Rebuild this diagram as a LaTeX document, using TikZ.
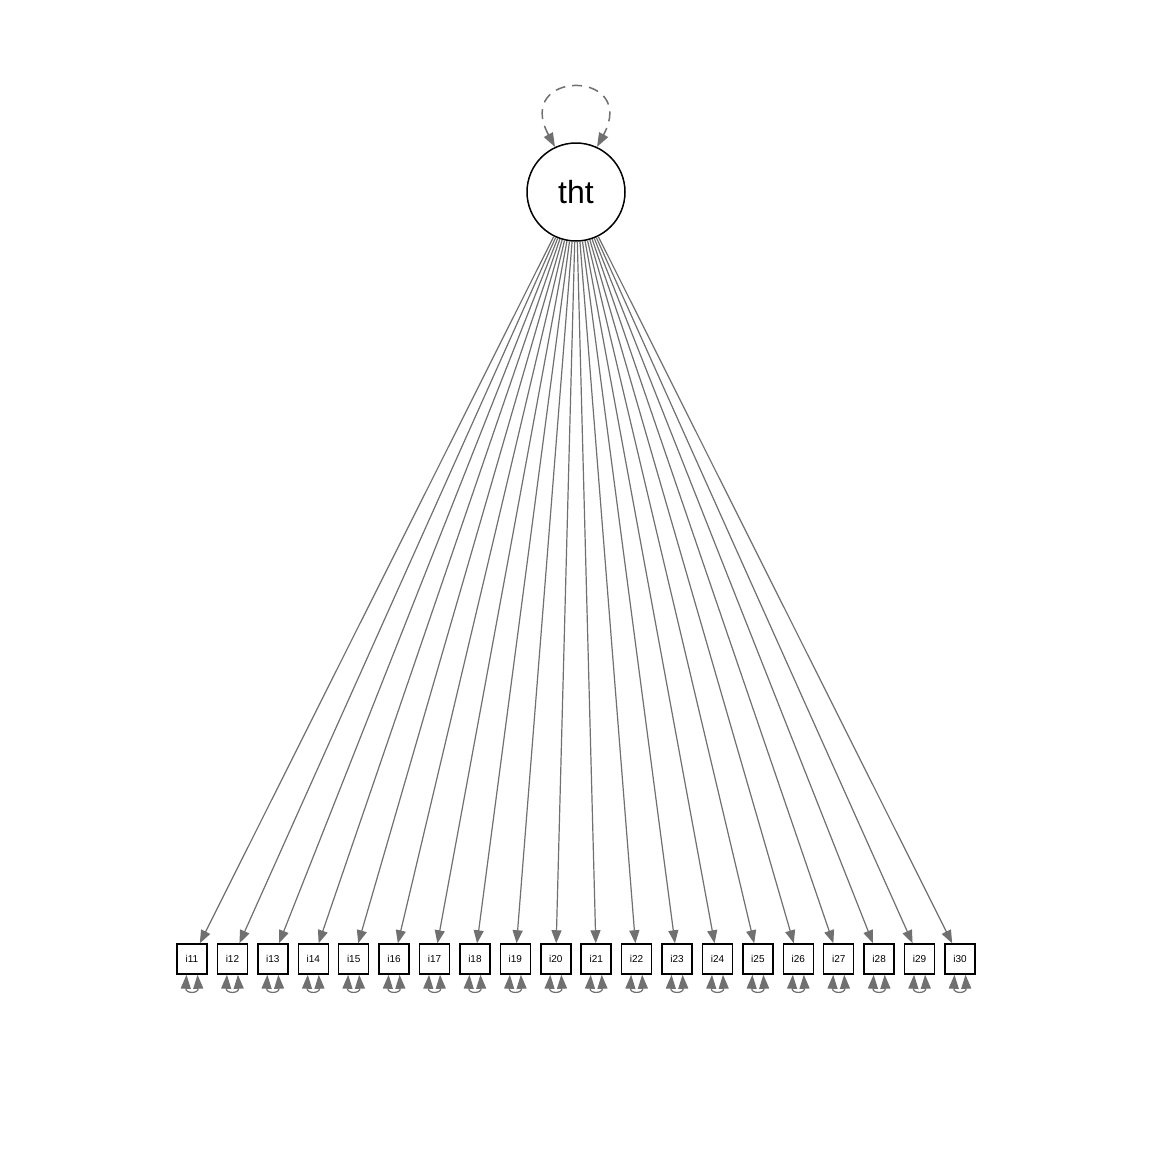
\documentclass[tikz,border=0pt]{standalone}
\usepackage{fontspec}
\setmainfont{Liberation Sans}
\usetikzlibrary{arrows.meta}
\definecolor{edgegray}{RGB}{112,112,112}
\begin{document}
\begin{tikzpicture}[x=1pt,y=-1pt,
  latent/.style={circle,draw=black,line width=1.5pt,minimum size=98pt,inner sep=0pt,font=\fontsize{32}{38}\selectfont},
  manifest/.style={rectangle,draw=black,line width=1.5pt,minimum size=30pt,inner sep=0pt,font=\fontsize{10}{12}\selectfont},
  load/.style={draw=edgegray,line width=1.2pt,-{Triangle[length=13pt,width=10pt]}},
  resid/.style={draw=edgegray,line width=1.2pt,{Triangle[length=14pt,width=10pt]}-{Triangle[length=14pt,width=10pt]}},
  selfvar/.style={draw=edgegray,line width=1.5pt,dash pattern=on 10pt off 7pt,{Triangle[length=14pt,width=10pt]}-{Triangle[length=14pt,width=10pt]}}]
\useasboundingbox[fill=white] (0,0) rectangle (1152,1152);
\node[latent] (tht) at (576,192) {tht};
\foreach \k in {0,...,19} {
  \pgfmathtruncatemacro\n{11+\k}
  \pgfmathsetmacro\xx{192+\k*768/19}
  \node[manifest] (i\n) at (\xx,959) {i\n};
  \draw[load] (tht) -- (i\n);
  \draw[resid] ([xshift=-5.5pt]i\n.south) .. controls +(-1,19) and +(1,19) .. ([xshift=5.5pt]i\n.south);
}
\draw[selfvar] (tht.115) .. controls +(-42,-78) and +(42,-78) .. (tht.65);
\end{tikzpicture}
\end{document}
